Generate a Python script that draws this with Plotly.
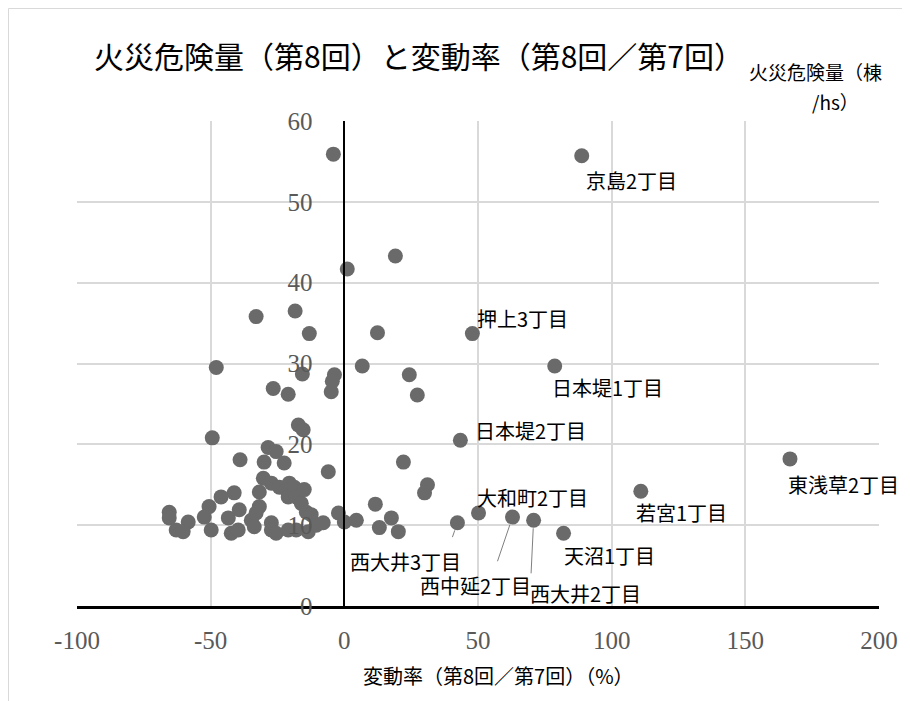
import plotly.graph_objects as go

# ---------------- data ----------------
x_vals = [-4.1, 1.1, 19.1, -33.0, -18.4, -13.1, 12.4, -47.9, 6.7, -15.7, -3.7, -4.5, -4.9, -26.6, -21.0, 24.3, 27.3,
          -17.2, -15.4, -49.4, -28.5, -25.5, -39.0, -30.0, -22.5, -6.0, 22.1, 31.1, 30.0,
          -30.3, -27.3, -31.8, -24.3, -21.7, -20.6, -18.7, -21.0, -18.0, -15.0, -16.1, -31.8, -14.2, -12.4,
          -41.2, -46.1, -50.6, -52.4, -65.5, -65.5, -58.4, -62.9, -60.3, -49.8, -43.4, -42.3, -39.3, -39.7,
          -34.8, -33.7, -27.3, -27.3, -25.5, -21.0, -18.0, -13.5, -10.5, -7.9, -2.2, 0.0, 4.5, -33.0,
          11.6, 17.6, 13.1, 20.2]
y_vals = [55.9, 41.7, 43.3, 35.8, 36.5, 33.7, 33.8, 29.5, 29.7, 28.7, 28.6, 27.8, 26.5, 26.9, 26.2, 28.6, 26.1,
          22.4, 21.8, 20.8, 19.6, 19.1, 18.1, 17.8, 17.7, 16.6, 17.8, 15.0, 14.0,
          15.8, 15.2, 14.1, 14.7, 14.4, 15.2, 14.7, 13.5, 13.5, 14.4, 12.7, 12.3, 11.6, 11.3,
          14.0, 13.5, 12.3, 11.0, 11.6, 10.9, 10.4, 9.4, 9.2, 9.4, 10.9, 9.0, 11.9, 9.4,
          10.6, 9.8, 10.3, 9.4, 9.0, 9.4, 9.4, 9.2, 10.0, 10.3, 11.5, 10.4, 10.6, 11.5,
          12.6, 10.9, 9.7, 9.2]

label_names = ["京島2丁目", "押上3丁目", "日本堤1丁目", "日本堤2丁目", "東浅草2丁目", "若宮1丁目",
               "大和町2丁目", "西大井3丁目", "西中延2丁目", "西大井2丁目", "天沼1丁目"]
label_x = [88.8, 47.9, 78.7, 43.4, 166.7, 110.9, 50.2, 42.3, 62.9, 70.8, 82.0]
label_y = [55.7, 33.7, 29.7, 20.5, 18.2, 14.2, 11.5, 10.3, 11.0, 10.6, 9.0]

x_ticks = [-100, -50, 0, 50, 100, 150, 200]
x_tick_text = ["-100", "-50", "0", "50", "100", "150", "200"]
y_ticks = [0, 10, 20, 30, 40, 50, 60]

title_text = "火災危険量（第8回）と変動率（第8回／第7回）"
x_title = "変動率（第8回／第7回）（%）"
y_title_1 = "火災危険量（棟"
y_title_2 = "/hs）"

# ---------------- layout geometry ----------------
OFF = 8                      # page body margin
W, H = 910 - OFF, 701 - OFF
ML, MR, MT, MB = 77 - OFF, 31, 121 - OFF, 95
PW, PH = W - ML - MR, H - MT - MB


def px2paper(px, py):
    """screen pixel (window coords) -> paper coords"""
    return (px - OFF - ML) / PW, (H - MB - (py - OFF)) / PH


label_shift = {
    "京島2丁目": (50, -25),
    "押上3丁目": (50, 15),
    "日本堤1丁目": (53, -22),
    "日本堤2丁目": (70, 10),
    "東浅草2丁目": (54, -26),
    "若宮1丁目": (41, -21),
    "大和町2丁目": (54, 16),
    "西大井3丁目": (-52, -39),
    "西中延2丁目": (-37, -68),
    "西大井2丁目": (52, -73),
    "天沼1丁目": (46, -22),
}
leaders = {
    "西大井3丁目": (-8, 23),
    "西中延2丁目": (-18, 53),
    "西大井2丁目": (-3, 63),
}

MARKER = "#6a6a6a"
CJK = "Noto Sans CJK JP"
SERIF = "Liberation Serif"

fig = go.Figure()
fig.add_trace(go.Scatter(
    x=x_vals + label_x, y=y_vals + label_y, mode="markers",
    marker=dict(size=15, color=MARKER, line=dict(width=0)),
    showlegend=False, hoverinfo="x+y"))

annotations = []
for name, lx, ly in zip(label_names, label_x, label_y):
    if name in leaders:
        ax, ay = leaders[name]
        annotations.append(dict(x=lx, y=ly, xref="x", yref="y", text=" ", showarrow=True,
                                ax=ax, ay=ay, axref="pixel", ayref="pixel",
                                arrowhead=0, arrowwidth=1, arrowcolor="#7f7f7f", standoff=8))
    sx, sy = label_shift[name]
    annotations.append(dict(x=lx, y=ly, xref="x", yref="y", text=name, showarrow=False,
                            xshift=sx, yshift=sy, xanchor="center", yanchor="middle",
                            font=dict(family=CJK, size=20, color="#000000")))

tx, ty = px2paper(92, 55)
annotations.append(dict(x=tx, y=ty, xref="paper", yref="paper", text=title_text, showarrow=False,
                        xanchor="left", yanchor="middle", font=dict(family=CJK, size=30, color="#000000")))
ax1, ay1 = px2paper(815, 72)
annotations.append(dict(x=ax1, y=ay1, xref="paper", yref="paper", text=y_title_1, showarrow=False,
                        xanchor="center", yanchor="middle", font=dict(family=CJK, size=19, color="#000000")))
ax2, ay2 = px2paper(835, 102)
annotations.append(dict(x=ax2, y=ay2, xref="paper", yref="paper", text=y_title_2, showarrow=False,
                        xanchor="center", yanchor="middle", font=dict(family=CJK, size=19, color="#000000")))
xx, xy = px2paper(498, 675)
annotations.append(dict(x=xx, y=xy, xref="paper", yref="paper", text=x_title, showarrow=False,
                        xanchor="center", yanchor="middle", font=dict(family=CJK, size=20, color="#000000")))

bx0, by1 = px2paper(8.5, 8.5)
bx1, by0 = px2paper(960, 760)

fig.update_layout(
    width=W, height=H,
    margin=dict(l=ML, r=MR, t=MT, b=MB, pad=0),
    paper_bgcolor="white", plot_bgcolor="white",
    annotations=annotations,
    shapes=[dict(type="rect", xref="paper", yref="paper", x0=bx0, x1=bx1, y0=by0, y1=by1,
                 line=dict(color="#d9d9d9", width=1), fillcolor="rgba(0,0,0,0)", layer="below")],
    xaxis=dict(range=[-100, 200], tickvals=x_ticks, ticktext=x_tick_text, showgrid=True,
               gridcolor="#d9d9d9", gridwidth=1.5,
               zeroline=False, showline=True, linecolor="#000000", linewidth=3, ticks="",
               ticklabelstandoff=10, tickfont=dict(family=SERIF, size=25, color="#595959"),
               fixedrange=True),
    yaxis=dict(range=[0, 60], tickvals=y_ticks, showgrid=True, gridcolor="#d9d9d9", gridwidth=1.5,
               zeroline=False, showline=True, linecolor="#000000", linewidth=1.5, ticks="",
               anchor="free", position=1 / 3, side="left",
               ticklabelstandoff=26, tickfont=dict(family=SERIF, size=25, color="#595959"),
               fixedrange=True),
)

fig.write_html("out.html")
